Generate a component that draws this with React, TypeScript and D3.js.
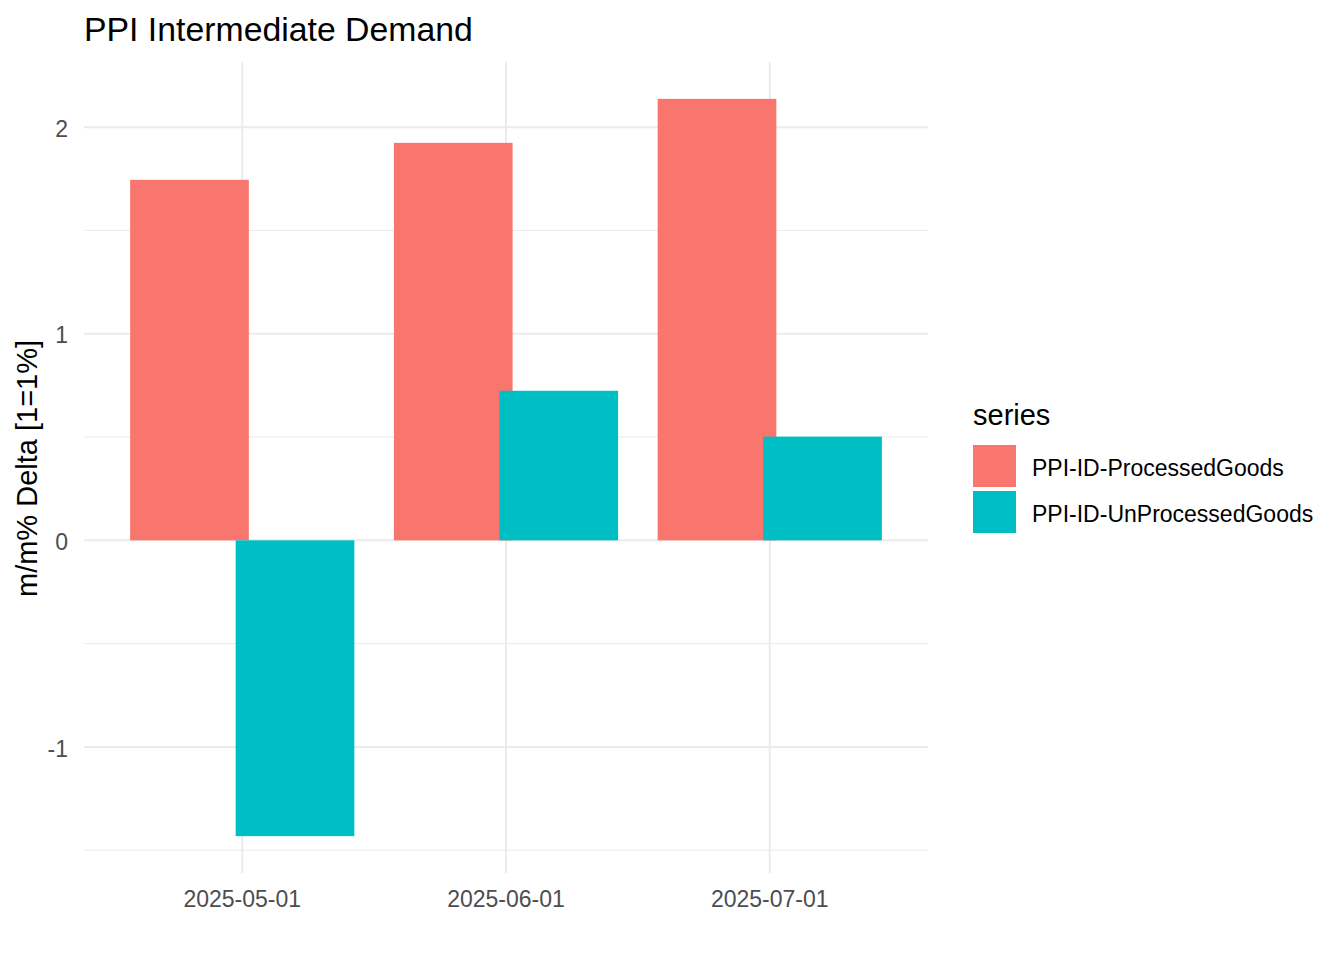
import { useEffect, useRef } from "react"
import * as d3 from "d3"

const dates = ["2025-05-01", "2025-06-01", "2025-07-01"]
const seriesNames = ["PPI-ID-ProcessedGoods", "PPI-ID-UnProcessedGoods"]
const processedGoods = [1.745, 1.924, 2.137]
const unprocessedGoods = [-1.432, 0.724, 0.502]
const seriesColors = ["#F8766D", "#00BFC4"]
const yMajorTicks = [-1, 0, 1, 2]
const yMinorTicks = [-1.5, -0.5, 0.5, 1.5]

const FONT = "'Liberation Sans', Arial, sans-serif"

export default function App() {
    const svgRef = useRef(null)

    useEffect(() => {
        const width = 1344
        const height = 960
        const panel = { left: 84, right: 928, top: 62, bottom: 873 }

        const svg = d3.select(svgRef.current)
        svg.selectAll("*").remove()
        svg.attr("width", width).attr("height", height)

        svg.append("rect").attr("width", width).attr("height", height).attr("fill", "#ffffff")

        const values = [processedGoods, unprocessedGoods]
        const all = [...processedGoods, ...unprocessedGoods, 0]
        const lo = d3.min(all)
        const hi = d3.max(all)
        const pad = (hi - lo) * 0.05

        const y = d3
            .scaleLinear()
            .domain([lo - pad, hi + pad])
            .range([panel.bottom, panel.top])

        const x = d3
            .scalePoint()
            .domain(dates)
            .range([panel.left, panel.right])
            .padding(0.6)

        const step = x.step()
        const barWidth = step * 0.45
        const dodge = step * 0.2

        const grid = svg.append("g")
        grid.selectAll(".minor")
            .data(yMinorTicks)
            .enter()
            .append("line")
            .attr("x1", panel.left)
            .attr("x2", panel.right)
            .attr("y1", (d) => y(d))
            .attr("y2", (d) => y(d))
            .attr("stroke", "#EBEBEB")
            .attr("stroke-width", 1)
        grid.selectAll(".major")
            .data(yMajorTicks)
            .enter()
            .append("line")
            .attr("x1", panel.left)
            .attr("x2", panel.right)
            .attr("y1", (d) => y(d))
            .attr("y2", (d) => y(d))
            .attr("stroke", "#EBEBEB")
            .attr("stroke-width", 2)
        grid.selectAll(".vmajor")
            .data(dates)
            .enter()
            .append("line")
            .attr("x1", (d) => x(d))
            .attr("x2", (d) => x(d))
            .attr("y1", panel.top)
            .attr("y2", panel.bottom)
            .attr("stroke", "#EBEBEB")
            .attr("stroke-width", 2)

        // bars, processed first so unprocessed sits on top where they overlap
        values.forEach((vals, si) => {
            const offset = si === 0 ? -dodge : dodge
            svg.append("g")
                .selectAll("rect")
                .data(vals)
                .enter()
                .append("rect")
                .attr("x", (d, i) => x(dates[i]) + offset - barWidth / 2)
                .attr("width", barWidth)
                .attr("y", (d) => y(Math.max(0, d)))
                .attr("height", (d) => Math.abs(y(d) - y(0)))
                .attr("fill", seriesColors[si])
        })

        // axis labels
        svg.append("g")
            .selectAll("text")
            .data(yMajorTicks)
            .enter()
            .append("text")
            .attr("x", 68)
            .attr("y", (d) => y(d))
            .attr("dy", "0.42em")
            .attr("text-anchor", "end")
            .attr("font-family", FONT)
            .attr("font-size", 23)
            .attr("fill", "#4D4D4D")
            .text((d) => String(d))

        svg.append("g")
            .selectAll("text")
            .data(dates)
            .enter()
            .append("text")
            .attr("x", (d) => x(d))
            .attr("y", 906.5)
            .attr("text-anchor", "middle")
            .attr("font-family", FONT)
            .attr("font-size", 23)
            .attr("fill", "#4D4D4D")
            .text((d) => d)

        svg.append("text")
            .attr("transform", `translate(37,${(panel.top + panel.bottom) / 2 + 1}) rotate(-90)`)
            .attr("text-anchor", "middle")
            .attr("font-family", FONT)
            .attr("font-size", 29)
            .attr("fill", "#000000")
            .text("m/m% Delta [1=1%]")

        svg.append("text")
            .attr("x", panel.left)
            .attr("y", 41.3)
            .attr("font-family", FONT)
            .attr("font-size", 33.8)
            .attr("fill", "#000000")
            .text("PPI Intermediate Demand")

        // legend
        const legend = svg.append("g").attr("transform", "translate(973,0)")
        legend.append("text")
            .attr("x", 0)
            .attr("y", 425)
            .attr("font-family", FONT)
            .attr("font-size", 29)
            .attr("fill", "#000000")
            .text("series")

        const keyStep = 46
        const keys = legend.selectAll(".key")
            .data(seriesNames)
            .enter()
            .append("g")
            .attr("transform", (d, i) => `translate(0,${445 + i * keyStep})`)
        keys.append("rect")
            .attr("width", 43)
            .attr("height", 42)
            .attr("fill", (d, i) => seriesColors[i])
        keys.append("text")
            .attr("x", 59)
            .attr("y", 21)
            .attr("dy", "0.42em")
            .attr("font-family", FONT)
            .attr("font-size", 23)
            .attr("fill", "#000000")
            .text((d) => d)
    }, [])

    return (
        <div style={{ position: "absolute", left: 0, top: 0 }}>
            <svg ref={svgRef} style={{ display: "block" }}></svg>
        </div>
    )
}
